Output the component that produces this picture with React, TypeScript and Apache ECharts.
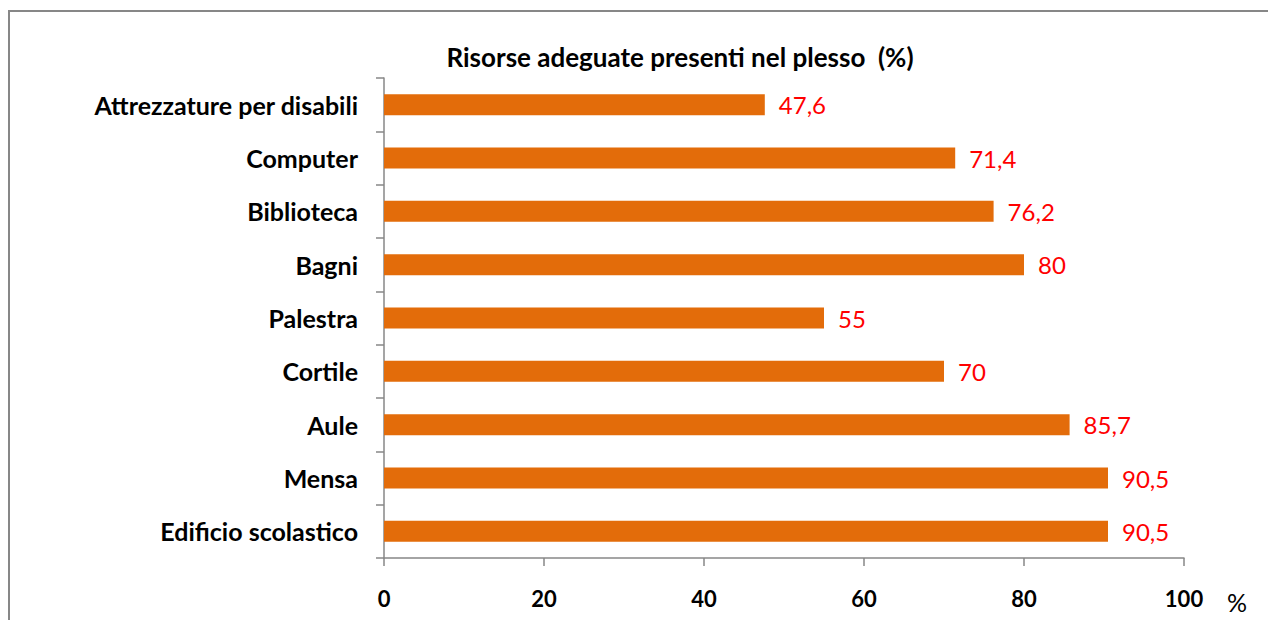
import React, { useEffect, useRef } from "react";
import * as echarts from "echarts";

const categories = [
  "Edificio scolastico",
  "Mensa",
  "Aule",
  "Cortile",
  "Palestra",
  "Bagni",
  "Biblioteca",
  "Computer",
  "Attrezzature per disabili",
];
const values = [90.5, 90.5, 85.7, 70, 55, 80, 76.2, 71.4, 47.6];
const titleText = "Risorse adeguate presenti nel plesso  (%)";
const axisUnit = "%";

export default function App() {
  const ref = useRef<HTMLDivElement>(null);
  useEffect(() => {
    document.body.style.margin = "0";
    const chart = echarts.init(ref.current!, null, { renderer: "svg" });
    const font = "Lato, 'Open Sans', sans-serif";
    chart.setOption({
      animation: false,
      backgroundColor: "#ffffff",
      title: {
        text: titleText,
        left: 675,
        textAlign: "center",
        top: 39,
        textStyle: { fontFamily: font, fontSize: 26, fontWeight: "bold", color: "#000" },
      },
      graphic: [
        {
          type: "rect",
          shape: { x: 9, y: 11, width: 1300, height: 700 },
          style: { fill: "none", stroke: "#878787", lineWidth: 2 },
          silent: true,
        },
        {
          type: "text",
          left: 1227,
          top: 589,
          style: { text: axisUnit, fontFamily: font, fontSize: 25, fill: "#000" },
        },
      ],
      grid: { left: 384, right: 84, top: 78, bottom: 62, containLabel: false },
      xAxis: {
        type: "value",
        min: 0,
        max: 100,
        interval: 20,
        splitLine: { show: false },
        axisLine: { show: true, lineStyle: { color: "#878787", width: 1.5 } },
        axisTick: { show: true, length: 8, lineStyle: { color: "#878787", width: 1.5 } },
        axisLabel: {
          margin: 29,
          fontFamily: font,
          fontSize: 22,
          fontWeight: "bold",
          color: "#000",
        },
      },
      yAxis: {
        type: "category",
        data: categories,
        axisLine: { show: true, lineStyle: { color: "#878787", width: 1.5 } },
        axisTick: { show: true, length: 8, lineStyle: { color: "#878787", width: 1.5 } },
        axisLabel: {
          margin: 26,
          fontFamily: font,
          fontSize: 25,
          fontWeight: "bold",
          color: "#000",
        },
      },
      series: [
        {
          type: "bar",
          data: values,
          barWidth: 21,
          itemStyle: { color: "#E36C0A" },
          label: {
            show: true,
            position: "right",
            distance: 14,
            fontFamily: font,
            fontSize: 24,
            color: "#FF0000",
            formatter: (p: any) => String(p.value).replace(".", ","),
          },
        },
      ],
    });
    return () => chart.dispose();
  }, []);
  return <div ref={ref} style={{ width: 1268, height: 620 }} />;
}
